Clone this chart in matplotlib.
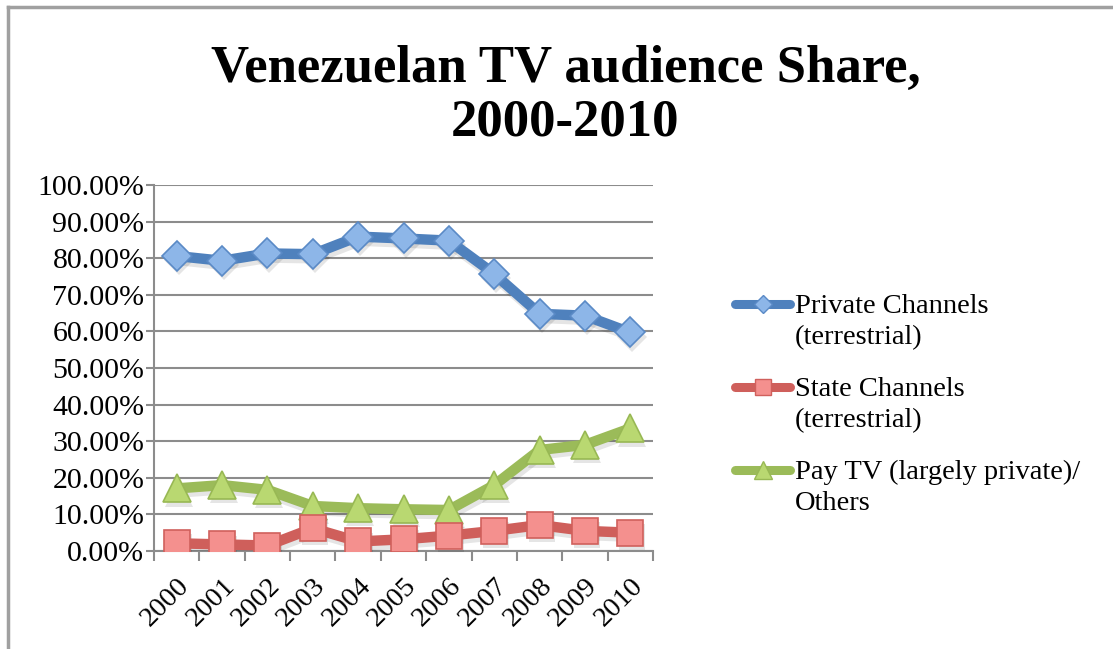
import matplotlib
matplotlib.use("Agg")
import matplotlib.pyplot as plt
from matplotlib.lines import Line2D
from matplotlib.ticker import PercentFormatter, FixedLocator
from matplotlib.transforms import offset_copy

years = ['2000', '2001', '2002', '2003', '2004', '2005', '2006', '2007', '2008', '2009', '2010']
private = [80.6, 79.3, 81.3, 81.1, 85.9, 85.4, 84.8, 75.7, 64.8, 64.3, 59.7]
state = [2.1, 1.8, 1.5, 6.2, 2.6, 3.2, 4.2, 5.5, 7.1, 5.5, 5.0]
paytv = [17.1, 18.0, 16.7, 12.3, 11.7, 11.4, 11.2, 18.0, 27.6, 29.0, 33.5]

labels = ['Private Channels\n(terrestrial)',
          'State Channels\n(terrestrial)',
          'Pay TV (largely private)/\nOthers']

plt.rcParams['font.family'] = ['Liberation Serif', 'DejaVu Serif']

W, H = 1113, 649
fig = plt.figure(figsize=(W / 100, H / 100), dpi=100)
ax = fig.add_axes([154 / W, 98 / H, 499 / W, 366 / H])

x = list(range(len(years)))
# values, line colour, marker, size, face, edge, zorder
series = [
    (private, '#4F81BD', 'D', 15, '#8DB6E8', '#5A8AC6', 5),
    (state, '#CF5F5B', 's', 19, '#F4908E', '#D0605C', 6),
    (paytv, '#9BBB59', '^', 20, '#B9D871', '#98B854', 4),
]

# soft drop shadow under each series
shadow_tr = offset_copy(ax.transData, fig=fig, x=1.5, y=-3, units='points')
for vals, lc, mk, ms, fc, ec, z in series:
    ax.plot(x, vals, color='black', alpha=0.10, lw=7.5, marker=mk, ms=ms, mew=0,
            solid_capstyle='round', transform=shadow_tr, zorder=z - 0.5)

for vals, lc, mk, ms, fc, ec, z in series:
    ax.plot(x, vals, color=lc, lw=7.5, marker=mk, ms=ms, mfc=fc, mec=ec, mew=1.2,
            solid_capstyle='round', zorder=z)

ax.set_xlim(-0.5, len(years) - 0.5)
ax.set_ylim(0, 100)
ax.yaxis.set_major_locator(FixedLocator(range(0, 101, 10)))
ax.yaxis.set_major_formatter(PercentFormatter(decimals=2))
ax.grid(axis='y', color='#8C8C8C', lw=1.5)
ax.set_axisbelow(True)

# category ticks sit between the years, labels at the centres
ax.set_xticks([i - 0.5 for i in range(len(years) + 1)])
ax.set_xticklabels([])
ax.set_xticks(x, minor=True)
ax.set_xticklabels(years, minor=True, rotation=45, ha='right', va='top',
                   rotation_mode='anchor', fontsize=20.5)
ax.tick_params(axis='x', which='minor', length=0, pad=16)
ax.tick_params(axis='x', which='major', length=7, width=1.5, color='#8C8C8C', direction='out')
ax.tick_params(axis='y', length=6, width=1.5, color='#8C8C8C', labelsize=21.5, pad=1)

for s in ['top', 'right']:
    ax.spines[s].set_visible(False)
for s in ['left', 'bottom']:
    ax.spines[s].set_color('#8C8C8C')
    ax.spines[s].set_linewidth(1.5)

fig.text(0.508, 0.93, 'Venezuelan TV audience Share,\n2000-2010', ha='center', va='top',
         fontsize=38, fontweight='bold', linespacing=1.15)

# legend: handle next to the first line of each label
leg_y = [304, 387, 470]
for (vals, lc, mk, ms, fc, ec, z), lab, yy in zip(series, labels, leg_y):
    fy = 1 - yy / H
    fig.add_artist(Line2D([735 / W, 790 / W], [fy, fy], color=lc, lw=6.5,
                          solid_capstyle='round'))
    fig.add_artist(Line2D([762.5 / W], [fy], ls='none', marker=mk, ms=ms * 0.62,
                          mfc=fc, mec=ec, mew=1))
    fig.text(795 / W, 1 - (yy - 10) / H, lab, ha='left', va='top', fontsize=20.5,
             linespacing=1.3)

# outer chart border (top and left edges)
fig.add_artist(Line2D([7.5 / W, 1], [1 - 6.5 / H, 1 - 6.5 / H], color='#A0A0A0', lw=2.5))
fig.add_artist(Line2D([7.5 / W, 7.5 / W], [0, 1 - 6.5 / H], color='#A0A0A0', lw=2.5))

fig.savefig('out.png', dpi=100)
